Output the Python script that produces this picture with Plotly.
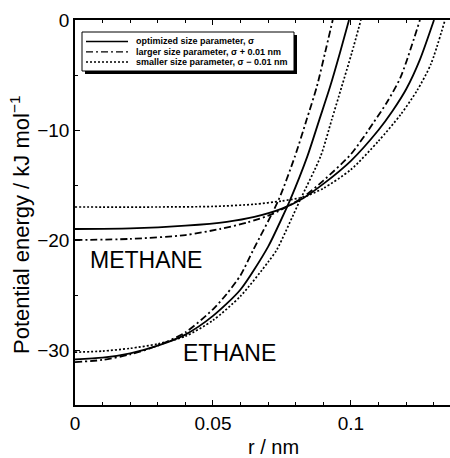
import plotly.graph_objects as go

# ---------------- data ----------------
r_meth_opt = [0, 0.02, 0.04, 0.055, 0.065, 0.075, 0.0827, 0.09, 0.1, 0.11, 0.115, 0.12, 0.125, 0.1301]
E_meth_opt = [-19.0, -18.95, -18.7, -18.35, -17.9, -17.15, -16.2, -14.9, -12.8, -10.0, -8.3, -6.3, -3.6, 0.0]

r_meth_large = [0, 0.02, 0.04, 0.0525, 0.0625, 0.0719, 0.0827, 0.09, 0.1, 0.108, 0.113, 0.118, 0.125]
E_meth_large = [-20.0, -19.9, -19.55, -19.0, -18.4, -17.6, -16.1, -14.6, -12.2, -9.4, -7.5, -5.2, 0.0]

r_meth_small = [0, 0.03, 0.05, 0.065, 0.075, 0.0827, 0.09, 0.1, 0.11, 0.118, 0.124, 0.129, 0.1341]
E_meth_small = [-17.0, -17.0, -16.95, -16.75, -16.45, -16.1, -15.3, -13.6, -11.0, -8.6, -6.4, -4.0, 0.0]

r_eth_opt = [0, 0.01, 0.02, 0.03, 0.04, 0.05, 0.06, 0.07, 0.075, 0.0779, 0.0842, 0.0885, 0.0924, 0.096, 0.0993]
E_eth_opt = [-30.85, -30.7, -30.3, -29.6, -28.6, -26.9, -24.5, -20.6, -18.0, -16.4, -12.4, -9.1, -6.1, -3.0, 0.0]

r_eth_large = [0, 0.01, 0.02, 0.03, 0.04, 0.05, 0.055, 0.06, 0.0646, 0.0737, 0.0797, 0.0839, 0.0876, 0.0906, 0.0934]
E_eth_large = [-31.1, -30.9, -30.4, -29.6, -28.4, -26.3, -24.9, -23.2, -20.9, -16.4, -12.4, -9.1, -6.1, -3.0, 0.0]

r_eth_small = [0, 0.01, 0.02, 0.03, 0.04, 0.05, 0.06, 0.07, 0.0731, 0.0815, 0.089, 0.093, 0.0966, 0.1003, 0.1036]
E_eth_small = [-30.2, -30.1, -29.85, -29.45, -28.75, -27.3, -25.1, -22.0, -20.9, -16.4, -12.4, -9.1, -6.1, -3.0, 0.0]

legend_labels = [
    "optimized size parameter, σ",
    "larger size parameter, σ + 0.01 nm",
    "smaller size parameter, σ − 0.01 nm",
]
x_tickvals = [0, 0.05, 0.1]
x_ticktext = ["0", "0.05", "0.1"]
y_tickvals = [0, -10, -20, -30]
y_ticktext = ["0", "−10", "−20", "−30"]
x_title = "r / nm"
y_title = "Potential energy / kJ mol<sup>−1</sup>"
species_labels = ["METHANE", "ETHANE"]

# ---------------- styles ----------------
FONT = "Liberation Sans, Arial, Helvetica, sans-serif"
DASHES = ["solid", "7px,3px,2px,3px", "2px,2px"]
WIDTHS = [1.8, 1.8, 1.7]

W, H = 450, 458
L, R, T, B = 75, 0, 20, 53
PW, PH = W - L - R, H - T - B


def px(xp):
    return (xp - L) / PW


def py(yp):
    return (H - B - yp) / PH


fig = go.Figure()
series = [
    (r_meth_opt, E_meth_opt, 0), (r_meth_large, E_meth_large, 1), (r_meth_small, E_meth_small, 2),
    (r_eth_opt, E_eth_opt, 0), (r_eth_large, E_eth_large, 1), (r_eth_small, E_eth_small, 2),
]
for r, e, k in series:
    fig.add_trace(go.Scatter(
        x=r, y=e, mode="lines", showlegend=False,
        line=dict(color="black", width=WIDTHS[k], dash=DASHES[k], shape="spline", smoothing=0.7),
        hoverinfo="skip",
    ))

shapes = []
annotations = []

# legend box with drop shadow
bx0, bx1, by0, by1 = 82, 294, 32, 71
shapes.append(dict(type="rect", xref="paper", yref="paper",
                   x0=px(bx0 + 3), x1=px(bx1 + 3), y0=py(by1 + 3), y1=py(by0 + 3),
                   fillcolor="black", line=dict(width=0), layer="above"))
shapes.append(dict(type="rect", xref="paper", yref="paper",
                   x0=px(bx0), x1=px(bx1), y0=py(by1), y1=py(by0),
                   fillcolor="white", line=dict(color="black", width=1), layer="above"))
rows = [41.5, 51.8, 62.0]
for k, (lab, yrow) in enumerate(zip(legend_labels, rows)):
    shapes.append(dict(type="line", xref="paper", yref="paper",
                       x0=px(86), x1=px(128), y0=py(yrow), y1=py(yrow),
                       line=dict(color="black", width=1.3, dash=DASHES[k]), layer="above"))
    annotations.append(dict(xref="paper", yref="paper", x=px(134), y=py(yrow),
                            text="<b>" + lab + "</b>", showarrow=False, xanchor="left", yanchor="middle",
                            font=dict(family=FONT, size=9, color="black")))

# species labels
annotations.append(dict(xref="x", yref="y", x=0.0257, y=-21.8, text=species_labels[0], showarrow=False,
                        xanchor="center", yanchor="middle", font=dict(family=FONT, size=23, color="black")))
annotations.append(dict(xref="x", yref="y", x=0.056, y=-30.3, text=species_labels[1], showarrow=False,
                        xanchor="center", yanchor="middle", font=dict(family=FONT, size=23, color="black")))

# axis titles
annotations.append(dict(xref="paper", yref="paper", x=px(273), y=py(447), text=x_title, showarrow=False,
                        xanchor="center", yanchor="middle", font=dict(family=FONT, size=20, color="black")))
annotations.append(dict(xref="paper", yref="paper", x=px(20), y=py(225), text=y_title, showarrow=False,
                        textangle=-90, xanchor="center", yanchor="middle",
                        font=dict(family=FONT, size=22, color="black")))

fig.update_layout(
    width=W, height=H,
    margin=dict(l=L, r=R, t=T, b=B, pad=0),
    paper_bgcolor="white", plot_bgcolor="white",
    font=dict(family=FONT, size=19, color="black"),
    shapes=shapes, annotations=annotations,
    xaxis=dict(range=[0, 0.1359], tickvals=x_tickvals, ticktext=x_ticktext,
               ticks="inside", ticklen=5, tickwidth=1.3, tickcolor="black",
               minor=dict(dtick=0.01, tick0=0, ticks="inside", ticklen=3, tickwidth=1.3, tickcolor="black"),
               showline=True, linecolor="black", linewidth=1.6, mirror="ticks",
               showgrid=False, zeroline=False, tickfont=dict(size=19)),
    yaxis=dict(range=[-35, 0], tickvals=y_tickvals, ticktext=y_ticktext,
               ticks="inside", ticklen=5, tickwidth=1.3, tickcolor="black",
               minor=dict(dtick=5, tick0=0, ticks="inside", ticklen=3, tickwidth=1.3, tickcolor="black"),
               showline=True, linecolor="black", linewidth=1.6, mirror=False,
               showgrid=False, zeroline=False, tickfont=dict(size=19)),
)

fig.write_html("out.html")
